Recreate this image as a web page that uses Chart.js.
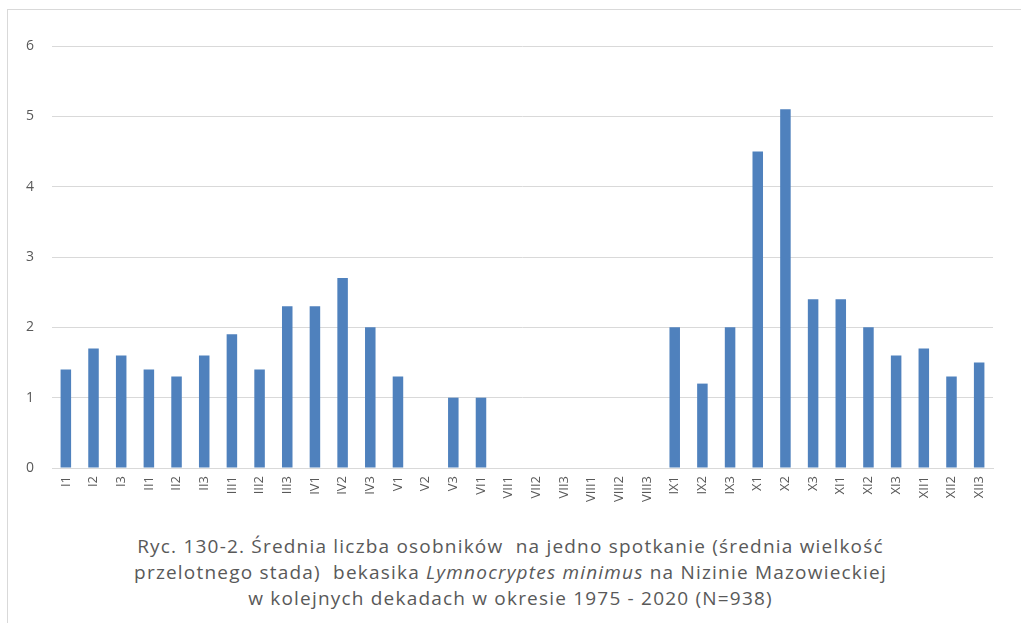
<!DOCTYPE html>
<html>
<head>
<meta charset="utf-8">
<script src="https://cdn.jsdelivr.net/npm/chart.js@4/dist/chart.umd.min.js"></script>
<style>
  body { margin: 0; background: #fff; width: 1021px; height: 623px; overflow: hidden; position: relative; font-family: "Open Sans", sans-serif; }
  #frame { position: absolute; left: 7px; top: 9px; width: 1100px; height: 700px; border: 1px solid #d9d9d9; }
  #wrap { position: absolute; left: 8px; top: 10px; width: 1013px; height: 520px; }
  #caption { position: absolute; left: 0; width: 1021px; top: 533px; text-align: center; color: #595959; font-size: 19px; letter-spacing: 1.2px; line-height: 26px; }
</style>
</head>
<body>
<div id="frame"></div>
<div id="wrap"><canvas id="chart"></canvas></div>
<div id="caption">
  Ryc. 130-2. Średnia liczba osobników&nbsp; na jedno spotkanie (średnia wielkość<br>
  przelotnego stada)&nbsp; bekasika <i>Lymnocryptes minimus</i> na Nizinie Mazowieckiej<br>
  w kolejnych dekadach w okresie 1975 - 2020 (N=938)
</div>
<script>
// dekady
var categories = ['I1', 'I2', 'I3', 'II1', 'II2', 'II3', 'III1', 'III2', 'III3',
    'IV1', 'IV2', 'IV3', 'V1', 'V2', 'V3', 'VI1', 'VII1', 'VII2', 'VII3',
    'VIII1', 'VIII2', 'VIII3', 'IX1', 'IX2', 'IX3', 'X1', 'X2', 'X3',
    'XI1', 'XI2', 'XI3', 'XII1', 'XII2', 'XII3'];

// srednia liczba osobnikow
var meanCounts = [1.4, 1.7, 1.6, 1.4, 1.3, 1.6, 1.9, 1.4, 2.3,
    2.3, 2.7, 2.0, 1.3, 0, 1.0, 1.0, 0, 0, 0,
    0, 0, 0, 2.0, 1.2, 2.0, 4.5, 5.1, 2.4,
    2.4, 2.0, 1.6, 1.7, 1.3, 1.5];

var yTicks = [0, 1, 2, 3, 4, 5, 6];

var ctx = document.getElementById('chart').getContext('2d');
var myChart = new Chart(ctx, {
    type: 'bar',
    data: {
        labels: categories,
        datasets: [{
            data: meanCounts,
            backgroundColor: '#4f81bd',
            borderWidth: 0,
            barPercentage: 0.5,
            categoryPercentage: 0.76
        }]
    },
    options: {
        responsive: true,
        maintainAspectRatio: false,
        animation: false,
        layout: { padding: { left: 8, right: 28, top: 36, bottom: 0 } },
        plugins: {
            legend: { display: false },
            tooltip: { enabled: false }
        },
        scales: {
            x: {
                grid: { display: false, drawTicks: false },
                border: { color: '#d9d9d9', width: 1 },
                ticks: {
                    color: '#595959',
                    font: { family: 'Open Sans', size: 13 },
                    minRotation: 90,
                    maxRotation: 90,
                    autoSkip: false,
                    padding: 8
                },
                afterFit: function (axis) { axis.height = 62; }
            },
            y: {
                min: 0,
                max: 6,
                afterBuildTicks: function (axis) {
                    axis.ticks = yTicks.map(function (v) { return { value: v }; });
                },
                grid: { color: '#d9d9d9', drawTicks: false },
                border: { display: false },
                ticks: {
                    color: '#595959',
                    font: { family: 'Open Sans', size: 14 },
                    padding: 18
                },
                afterFit: function (axis) { axis.width = 36; }
            }
        }
    }
});
</script>
</body>
</html>
